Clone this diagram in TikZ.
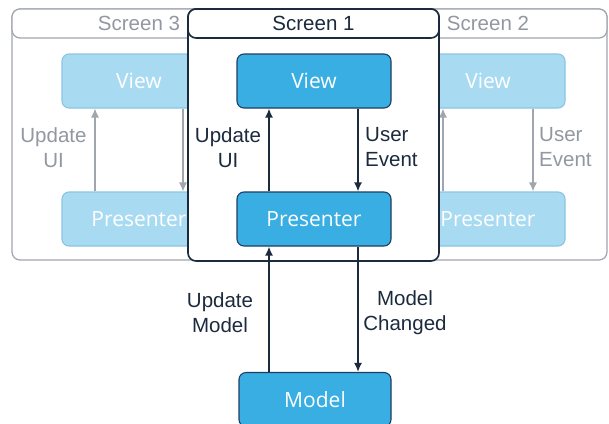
\documentclass[tikz,border=0pt]{standalone}
\usepackage{fontspec}
\setmainfont{Liberation Sans}
\newfontfamily\boxfont{Open Sans}
\usetikzlibrary{arrows.meta}
\definecolor{navy}{RGB}{28,42,62}
\definecolor{boxfill}{RGB}{56,174,226}
\definecolor{boxline}{RGB}{30,62,98}
\definecolor{palefill}{RGB}{168,219,242}
\definecolor{paleline}{RGB}{140,196,226}
\definecolor{greyline}{RGB}{160,165,174}
\definecolor{greytext}{RGB}{146,151,161}

\begin{document}
\begin{tikzpicture}[x=1pt,y=-1pt,
  frame/.style={draw=navy, fill=white, rounded corners=8pt, line width=1.6pt,
    inner sep=0pt, minimum width=251pt},
  pframe/.style={draw=greyline, fill=white, rounded corners=8pt, line width=1.2pt,
    inner sep=0pt},
  headtext/.style={font=\fontsize{20.5}{24}\selectfont},
  stage/.style={draw=boxline, fill=boxfill, rounded corners=7pt, line width=1.1pt,
    minimum width=154pt, minimum height=54pt, inner sep=0pt,
    text=white, font=\boxfont\fontsize{21}{25}\selectfont},
  pstage/.style={draw=paleline, fill=palefill, rounded corners=7pt, line width=1.1pt,
    minimum width=154pt, minimum height=54pt, inner sep=0pt,
    text=white, font=\boxfont\fontsize{21}{25}\selectfont},
  flow/.style={draw=navy, line width=1.6pt, -{Latex[length=9pt,width=8pt]}},
  pflow/.style={draw=greyline, line width=1.3pt, -{Latex[length=9pt,width=8pt]}},
  lbl/.style={text=navy, font=\fontsize{20.5}{25}\selectfont, inner sep=0pt},
  plbl/.style={text=greytext, font=\fontsize{20.5}{25}\selectfont, inner sep=0pt},
]
\useasboundingbox (0,0) rectangle (609,423);

% Screen 3 (background, left)
\node[pframe, minimum width=254pt, minimum height=251pt] (f3) at (139,134.5) {};
\node[pframe, minimum width=254pt, minimum height=29pt, headtext, text=greytext] (h3) at (139,23.5) {Screen 3};
\node[pstage] (v3) at (139,81) {View};
\node[pstage] (p3) at (139,219) {Presenter};
\draw[pflow] ([xshift=-44pt]p3.north) -- ([xshift=-44pt]v3.south);
\draw[pflow] ([xshift=44pt]v3.south) -- ([xshift=44pt]p3.north);
\node[plbl, align=center] (l3) at (53.5,147.5) {Update\\UI};

% Screen 2 (background, right)
\node[pframe, minimum width=238pt, minimum height=251pt] (f2) at (488,134.5) {};
\node[pframe, minimum width=238pt, minimum height=29pt, headtext, text=greytext] (h2) at (488,23.5) {Screen 2};
\node[pstage] (v2) at (488,81) {View};
\node[pstage] (p2) at (488,219) {Presenter};
\draw[pflow] ([xshift=-45pt]p2.north) -- ([xshift=-45pt]v2.south);
\draw[pflow] ([xshift=45pt]v2.south) -- ([xshift=45pt]p2.north);
\node[plbl, align=left, anchor=west] (l2) at (539,147.5) {User\\Event};

% Screen 1 (front)
\node[frame, minimum height=252pt] (f1) at (313.5,135) {};
\node[frame, minimum height=29pt, headtext, text=navy] (h1) at (313.5,23.5) {Screen 1};
\node[stage] (v1) at (314,81) {View};
\node[stage] (p1) at (314,219) {Presenter};
\draw[flow] ([xshift=-45pt]p1.north) -- ([xshift=-45pt]v1.south);
\draw[flow] ([xshift=44pt]v1.south) -- ([xshift=44pt]p1.north);
\node[lbl, align=center] (lu) at (228,147.5) {Update\\UI};
\node[lbl, align=left, anchor=west] (le) at (365,147.5) {User\\Event};

% Model and its links to the presenter
\node[stage, minimum width=152pt] (m) at (315,399.5) {Model};
\draw[flow] ([xshift=-45pt]p1.south |- m.north) -- ([xshift=-45pt]p1.south);
\draw[flow] ([xshift=44pt]p1.south) -- ([xshift=44pt]p1.south |- m.north);
\node[lbl, align=center] (lm) at (220,312.5) {Update\\Model};
\node[lbl, align=center] (lc) at (405,312.5) {Model\\Changed};
\end{tikzpicture}
\end{document}
